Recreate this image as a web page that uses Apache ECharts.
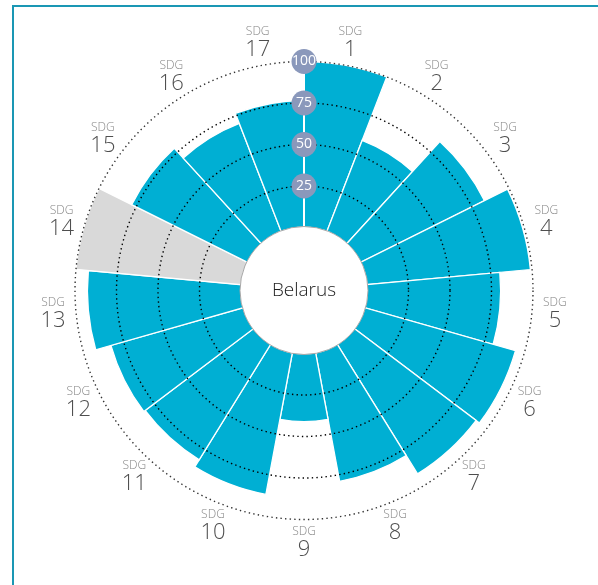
<!DOCTYPE html>
<html>
<head>
<meta charset="utf-8">
<script src="https://cdn.jsdelivr.net/npm/echarts@6/dist/echarts.min.js"></script>
<style>
  html, body { margin: 0; padding: 0; background: #fff; }
  #frame { position: absolute; left: 12px; top: 5px; width: 640px; height: 640px;
           border-left: 2px solid #1a97b4; border-top: 2px solid #1a97b4; }
  #chart { position: absolute; left: 0; top: 0; width: 598px; height: 585px; }
</style>
</head>
<body>
<div id="frame"></div>
<div id="chart"></div>
<script>
// SDG goal numbers, clockwise from the top
const goals = [1, 2, 3, 4, 5, 6, 7, 8, 9, 10, 11, 12, 13, 14, 15, 16, 17];
// Goal scores for Belarus (null = no data available)
const scores = [100, 59, 83.5, 99, 80.5, 94.5, 92, 79, 41, 87, 82, 83, 92.5, null, 78, 70, 76.5];
// Score rings shown on the vertical axis
const ringTicks = [0, 25, 50, 75, 100];
const countryName = 'Belarus';
const fullScale = 100;

const BLUE = '#00afd3';
const GREY = '#d9d9d9';
const BADGE = '#8a98bb';
const FONT = '"Open Sans", "Noto Sans", sans-serif';
const CENTER = [304, 290.5];

const categories = goals.map(g => 'SDG ' + g);

// goals without data are drawn as a full grey sector
const barData = scores.map(v => v == null
  ? { value: fullScale, itemStyle: { color: GREY } }
  : { value: v });

const chart = echarts.init(document.getElementById('chart'), null, { renderer: 'canvas' });

chart.setOption({
  animation: false,
  polar: [
    { center: CENTER, radius: [63, 229] },
    { center: CENTER, radius: [0, 252] }
  ],
  angleAxis: [
    {
      polarIndex: 0, type: 'category', data: categories,
      startAngle: 90, clockwise: true, boundaryGap: true,
      axisLine: { show: false }, axisTick: { show: false },
      axisLabel: { show: false }, splitLine: { show: false }
    },
    {
      polarIndex: 1, type: 'category', data: categories,
      startAngle: 90, clockwise: true, boundaryGap: true,
      axisLine: { show: false }, axisTick: { show: false },
      axisLabel: { show: false }, splitLine: { show: false }
    }
  ],
  radiusAxis: [
    {
      polarIndex: 0, type: 'value', min: ringTicks[0], max: ringTicks[ringTicks.length - 1],
      interval: ringTicks[1] - ringTicks[0], z: 5,
      axisLine: { show: true, lineStyle: { color: '#fff', width: 2 } },
      axisTick: { show: false },
      splitLine: {
        show: true,
        lineStyle: { color: ['transparent', '#000', '#000', '#000', '#333'], type: [1.4, 3.2], width: 1.4 }
      },
      axisLabel: {
        show: true, showMinLabel: false, margin: 0, inside: false,
        formatter: v => (v === 0 ? '' : String(v)),
        align: 'center', verticalAlign: 'middle',
        color: '#fff', fontFamily: FONT, fontSize: 14, letterSpacing: -0.5,
        backgroundColor: BADGE, width: 25, height: 25, lineHeight: 25, borderRadius: 12.5
      }
    },
    {
      polarIndex: 1, type: 'value', min: 0, max: 1,
      axisLine: { show: false }, axisTick: { show: false },
      axisLabel: { show: false }, splitLine: { show: false }
    }
  ],
  series: [
    {
      type: 'bar', coordinateSystem: 'polar', polarIndex: 0,
      data: barData, barCategoryGap: '0%',
      itemStyle: { color: BLUE, borderColor: '#fff', borderWidth: 1.3 },
      silent: true
    },
    {
      // goal labels around the wheel
      type: 'scatter', coordinateSystem: 'polar', polarIndex: 1,
      symbolSize: 1, itemStyle: { color: 'transparent' }, silent: true,
      data: goals.map((g, i) => [1, i]),
      label: {
        show: true, position: 'inside',
        formatter: p => '{s|SDG}\n{n|' + goals[p.dataIndex] + '}',
        rich: {
          s: { fontFamily: FONT, fontSize: 12, fontWeight: 300, color: '#666', lineHeight: 14, align: 'center' },
          n: { fontFamily: FONT, fontSize: 22, fontWeight: 300, color: '#222', lineHeight: 22, align: 'center' }
        }
      }
    },
    {
      // country disc in the middle
      type: 'pie', center: CENTER, radius: [0, 64], z: 10, silent: true,
      data: [{ value: 1, name: countryName }],
      itemStyle: { color: '#fff', borderColor: '#a8a8a8', borderWidth: 1 },
      label: { show: true, position: 'center', formatter: '{b}',
               fontFamily: FONT, fontSize: 19, fontWeight: 300, color: '#222' },
      labelLine: { show: false },
      emphasis: { disabled: true }
    }
  ]
});
</script>
</body>
</html>
